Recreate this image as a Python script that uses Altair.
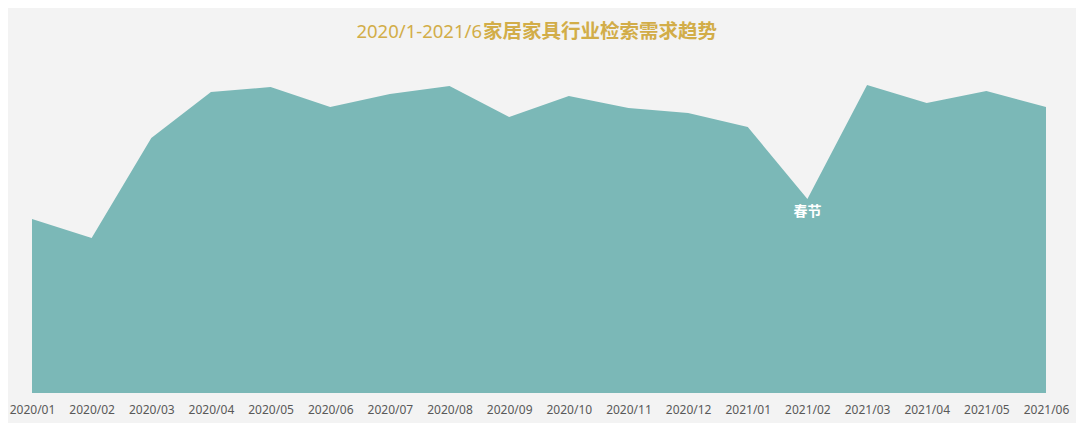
import altair as alt
import pandas as pd

months = ["2020/01", "2020/02", "2020/03", "2020/04", "2020/05", "2020/06",
          "2020/07", "2020/08", "2020/09", "2020/10", "2020/11", "2020/12",
          "2021/01", "2021/02", "2021/03", "2021/04", "2021/05", "2021/06"]
values = [174, 155, 255, 301, 306, 286, 299, 307, 276, 297, 285, 280,
          266, 194, 308, 290, 302, 286]
notes = ["", "", "", "", "", "", "", "", "", "", "", "", "", "春节", "", "", "", ""]
title_latin = "2020/1-2021/6"
title_cjk = "家居家具行业检索需求趋势"

df = pd.DataFrame({"month": months, "value": values, "note": notes})

FONT = "Noto Sans CJK SC"

x = alt.X("month:O", sort=months,
          scale=alt.Scale(type="point", padding=0),
          axis=alt.Axis(title=None, labelAngle=0, ticks=False, domain=False,
                        labelColor="#595959", labelFontSize=12, labelPadding=11,
                        labelFont="Noto Sans", grid=False))
y = alt.Y("value:Q", scale=alt.Scale(domain=[0, 350], nice=False),
          axis=None)

area = alt.Chart(df).mark_area(color="#7bb8b7", opacity=1, interpolate="linear").encode(x=x, y=y)

note = alt.Chart(df).transform_filter("datum.note != ''").mark_text(
    color="white", font=FONT, fontSize=14, fontWeight="bold", baseline="top", dy=6
).encode(x=alt.X("month:O", sort=months), y="value:Q", text="note:N")

title1 = alt.Chart(pd.DataFrame({"t": [title_latin]})).mark_text(
    color="#d2ad48", font="Noto Sans", fontSize=18.5, fontWeight="normal",
    baseline="middle", align="right"
).encode(x=alt.value(450), y=alt.value(-11), text="t:N")

title2 = alt.Chart(pd.DataFrame({"t": [title_cjk]})).mark_text(
    color="#d2ad48", font=FONT, fontSize=19.5, fontWeight="bold",
    baseline="middle", align="left"
).encode(x=alt.value(451), y=alt.value(-11), text="t:N")

chart = alt.layer(area, note, title1, title2).properties(
    width=1014, height=350,
    background="#f3f3f3",
    padding={"left": 24, "top": 35, "right": 30, "bottom": 30},
    autosize=alt.AutoSizeParams(type="none"),
).configure_view(stroke=None)

chart.save("out.html", embed_options={"renderer": "svg", "actions": False})
